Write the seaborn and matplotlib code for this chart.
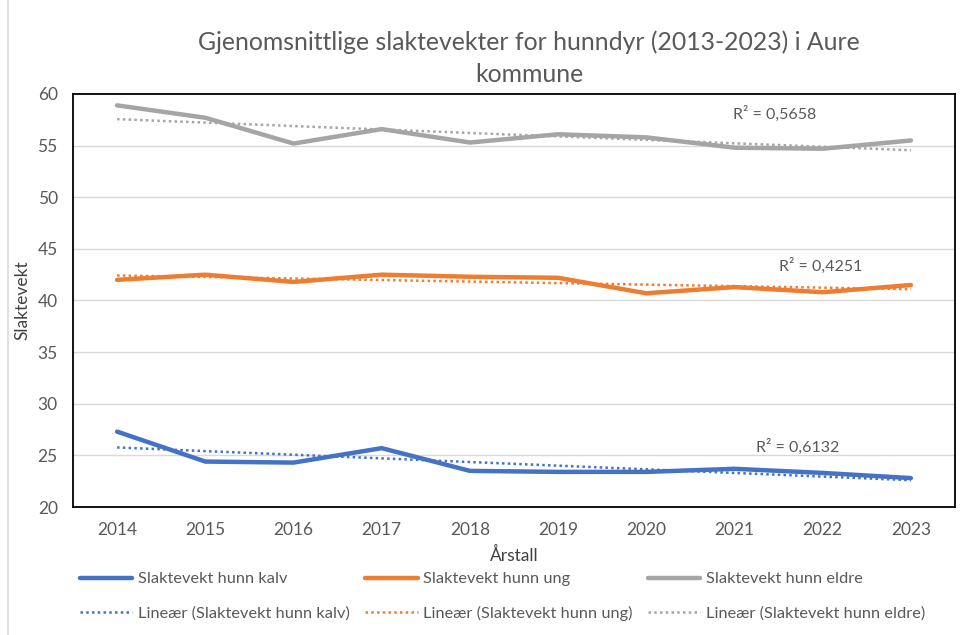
import numpy as np
import pandas as pd
import matplotlib
matplotlib.use("Agg")
import matplotlib.pyplot as plt
from matplotlib.lines import Line2D
import seaborn as sns

years = [2014, 2015, 2016, 2017, 2018, 2019, 2020, 2021, 2022, 2023]
kalv = [27.3, 24.4, 24.3, 25.7, 23.5, 23.4, 23.4, 23.7, 23.3, 22.8]
ung = [42.0, 42.5, 41.8, 42.5, 42.3, 42.2, 40.7, 41.3, 40.8, 41.5]
eldre = [58.9, 57.7, 55.2, 56.6, 55.3, 56.1, 55.8, 54.8, 54.7, 55.5]
series_names = ["Slaktevekt hunn kalv", "Slaktevekt hunn ung", "Slaktevekt hunn eldre"]
r2_labels = ["R² = 0,6132", "R² = 0,4251", "R² = 0,5658"]
colors = ["#4472C4", "#ED7D31", "#A5A5A5"]

sns.set_theme(style="white")
plt.rcParams["font.family"] = ["Lato", "DejaVu Sans"]

df = pd.DataFrame({
    "Årstall": years * 3,
    "Slaktevekt": kalv + ung + eldre,
    "Serie": sum([[n] * len(years) for n in series_names], []),
})

fig = plt.figure(figsize=(9.74, 6.35), dpi=100)
ax = fig.add_axes([73 / 974, 1 - 507 / 635, (955 - 73) / 974, (507 - 94) / 635])

# gridlines
for yv in range(25, 60, 5):
    ax.axhline(yv, color="#D9D9D9", lw=1.0, zorder=0)

sns.lineplot(data=df, x="Årstall", y="Slaktevekt", hue="Serie",
             palette=dict(zip(series_names, colors)), lw=3.2, ax=ax,
             legend=False, zorder=3)

for name, col in zip(series_names, colors):
    sub = df[df["Serie"] == name]
    sns.regplot(data=sub, x="Årstall", y="Slaktevekt", scatter=False, ci=None,
                ax=ax, line_kws=dict(color=col, lw=1.8, linestyle=(0, (1, 1.3)),
                                     zorder=4))

ax.set_xlim(2013.5, 2023.5)
ax.set_ylim(20, 60)
ax.set_xticks(years)
ax.set_xticklabels([str(y) for y in years])
ax.set_yticks(range(20, 61, 5))
ax.tick_params(axis="both", length=0, labelsize=12.5, labelcolor="#595959")
ax.tick_params(axis="x", pad=11)
ax.tick_params(axis="y", pad=11)
for s in ax.spines.values():
    s.set_visible(True)
    s.set_color("black")
    s.set_linewidth(1.3)

ax.set_xlabel("Årstall", fontsize=12.5, color="#404040", labelpad=6)
ax.set_ylabel("Slaktevekt", fontsize=12.5, color="#404040", labelpad=5)

# R² labels
r2_pos = [(2021.72, 25.8), (2021.98, 43.4), (2021.46, 58.1)]
for (xp, yp), lab in zip(r2_pos, r2_labels):
    ax.text(xp, yp, lab, fontsize=11.5, color="#595959", ha="center", va="center")

fig.text(529 / 974, 1 - 42 / 635, "Gjenomsnittlige slaktevekter for hunndyr (2013-2023) i Aure",
         ha="center", va="center", fontsize=17.8, color="#595959")
fig.text(529 / 974, 1 - 74 / 635, "kommune", ha="center", va="center", fontsize=17.8,
         color="#595959")

handles = []
labels = []
for name, col in zip(series_names, colors):
    handles.append(Line2D([], [], color=col, lw=3.2, solid_capstyle="round"))
    labels.append(name)
    handles.append(Line2D([], [], color=col, lw=1.8, linestyle=(0, (1, 1.3))))
    labels.append(f"Lineær ({name})")

leg = fig.legend(handles, labels, ncol=3, loc="upper left",
                 bbox_to_anchor=(80 / 974, 1 - 572 / 635), frameon=False,
                 fontsize=11.8, handlelength=3.2, handletextpad=0.32,
                 columnspacing=0.95, labelspacing=1.2, borderpad=0, borderaxespad=0)
for t in leg.get_texts():
    t.set_color("#595959")

fig.add_artist(Line2D([7.5 / 974, 7.5 / 974], [0, 1], color="#D9D9D9", lw=1.2))

fig.savefig("out.png", dpi=100)
